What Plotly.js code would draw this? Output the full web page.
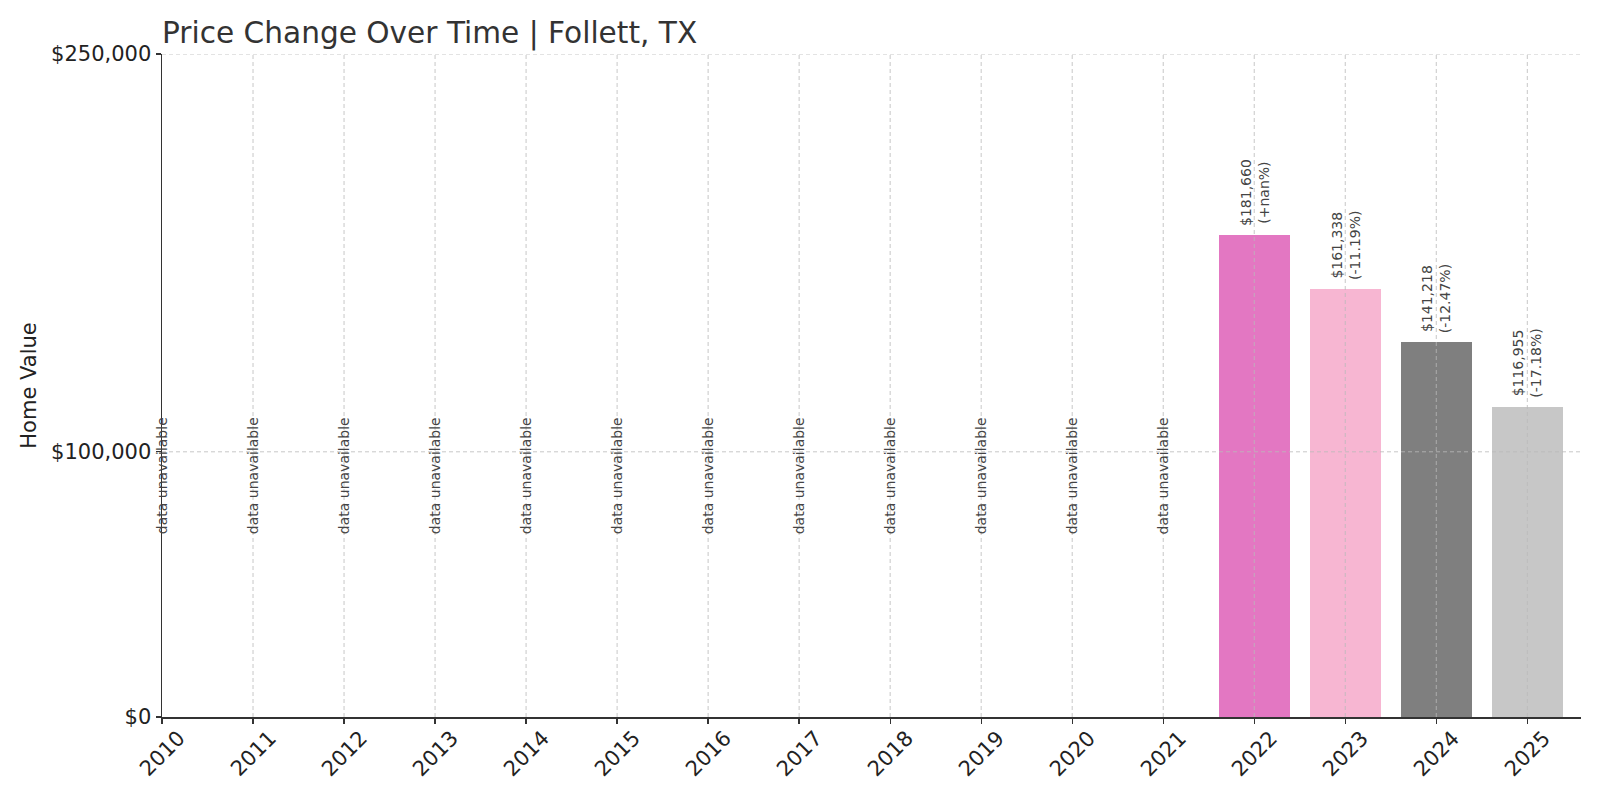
<!DOCTYPE html>
<html>
<head>
<meta charset="utf-8">
<script src="https://cdn.plot.ly/plotly-3.0.1.min.js"></script>
<style>html,body{margin:0;padding:0;background:#fff;}#chart{width:1600px;height:800px;}</style>
</head>
<body>
<div id="chart"></div>
<script>
// ---- data ----
const years = [2010,2011,2012,2013,2014,2015,2016,2017,2018,2019,2020,2021,2022,2023,2024,2025];
const yearLabels = ['2010','2011','2012','2013','2014','2015','2016','2017','2018','2019','2020','2021','2022','2023','2024','2025'];
const homeValues = [null,null,null,null,null,null,null,null,null,null,null,null,181660,161338,141218,116955];
const yTickValues = [0,100000,250000];
const yTickLabels = ['$0','$100,000','$250,000'];
const barColors = ['#e377c2','#f7b6d2','#7f7f7f','#c7c7c7'];
const titleText = 'Price Change Over Time | Follett, TX';
const yTitleText = 'Home Value';
const unavailableText = 'data unavailable';

// ---- derived ----
const fmt = v => '$' + Math.round(v).toLocaleString('en-US');
const barX = [], barY = [], annotations = [];
let colorIdx = 0;
const colorsUsed = [];
years.forEach((yr, i) => {
  const v = homeValues[i];
  if (v === null) {
    annotations.push({
      x: yr, y: 68000, xref: 'x', yref: 'y', text: unavailableText,
      textangle: -90, showarrow: false, xanchor: 'center', yanchor: 'bottom',
      font: {family: 'DejaVu Sans', size: 14, color: '#444'}
    });
  } else {
    barX.push(yr); barY.push(v);
    colorsUsed.push(barColors[colorIdx++ % barColors.length]);
    const prev = i > 0 ? homeValues[i-1] : null;
    let pct;
    if (prev === null) pct = '+nan%';
    else {
      const p = (v - prev) / prev * 100;
      pct = (p >= 0 ? '+' : '') + p.toFixed(2) + '%';
    }
    annotations.push({
      x: yr, y: v, xref: 'x', yref: 'y', text: fmt(v) + '<br>(' + pct + ')',
      textangle: -90, showarrow: false, xanchor: 'center', yanchor: 'bottom', yshift: 7,
      align: 'center',
      font: {family: 'DejaVu Sans', size: 14, color: '#444'}
    });
  }
});
// x tick labels, rotated 45° and centred under each tick
years.forEach((yr, i) => annotations.push({
  x: yr, y: 0, xref: 'x', yref: 'y', text: yearLabels[i],
  textangle: -45, showarrow: false, xanchor: 'center', yanchor: 'top', yshift: -7,
  font: {family: 'DejaVu Sans', size: 21, color: '#222'}
}));

const gridStyle = {color: 'rgba(185,185,185,0.8)', width: 1, dash: '4px,3px'};
const shapes = [];
years.slice(1).forEach(yr => shapes.push({
  type: 'line', xref: 'x', yref: 'paper', x0: yr, x1: yr, y0: 0, y1: 1, layer: 'above', line: gridStyle
}));
yTickValues.filter(v => v !== 0).forEach(v => shapes.push({
  type: 'line', xref: 'paper', yref: 'y', x0: 0, x1: 1, y0: v, y1: v, layer: 'above', line: gridStyle
}));

const trace = {
  type: 'bar', x: barX, y: barY, width: 0.78,
  marker: {color: colorsUsed, line: {width: 0}},
  hoverinfo: 'x+y'
};

const layout = {
  width: 1600, height: 800,
  margin: {l: 162, r: 19, t: 54, b: 83},
  paper_bgcolor: '#fff', plot_bgcolor: '#fff',
  font: {family: 'DejaVu Sans', color: '#222'},
  title: {
    text: titleText, x: 162/1600, xref: 'container', xanchor: 'left',
    y: 1 - 22.4/800, yref: 'container', yanchor: 'top',
    font: {family: 'DejaVu Sans', size: 29.6, color: '#333'}
  },
  showlegend: false,
  bargap: 0,
  xaxis: {
    range: [2010, 2025.59], tickmode: 'array', tickvals: years, showticklabels: false,
    ticks: 'outside', ticklen: 5, tickwidth: 1.3, tickcolor: '#333',
    showline: true, linecolor: '#333', linewidth: 1.5, showgrid: false, zeroline: false,
    fixedrange: true, layer: 'above traces'
  },
  yaxis: {
    range: [0, 250000], tickmode: 'array', tickvals: yTickValues, ticktext: yTickLabels,
    ticks: 'outside', ticklen: 5, tickwidth: 1.3, tickcolor: '#333',
    showline: true, linecolor: '#333', linewidth: 1.5, showgrid: false, zeroline: false,
    tickfont: {family: 'DejaVu Sans', size: 21, color: '#222'},
    title: {text: yTitleText, font: {family: 'DejaVu Sans', size: 21, color: '#222'}, standoff: 8},
    automargin: false, fixedrange: true, layer: 'above traces'
  },
  shapes: shapes,
  annotations: annotations
};

Plotly.newPlot('chart', [trace], layout, {displayModeBar: false, staticPlot: true});
</script>
</body>
</html>
